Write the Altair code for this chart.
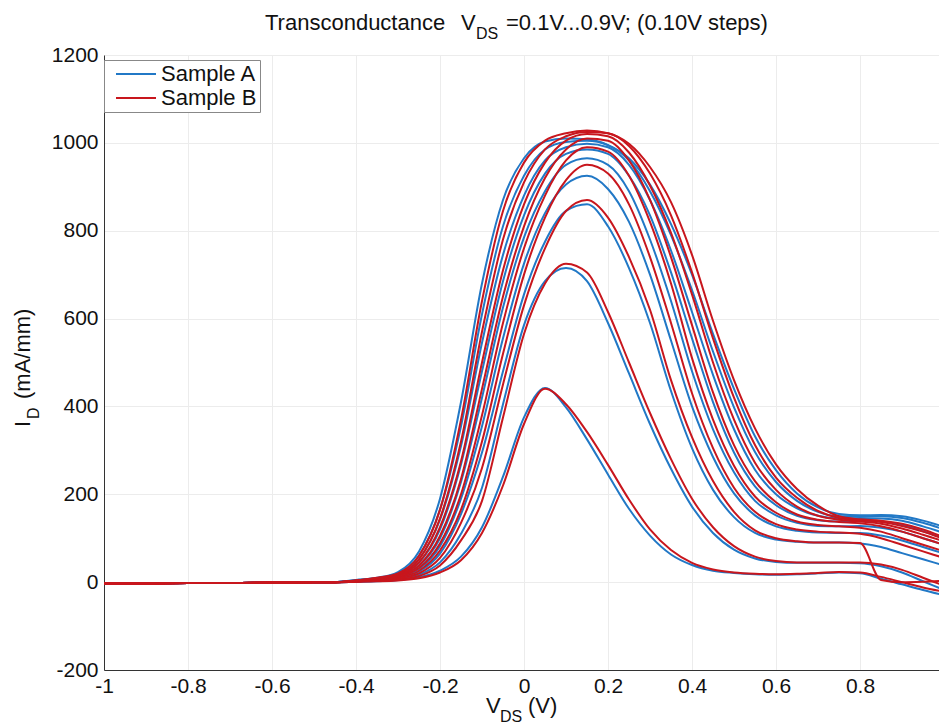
import altair as alt
import pandas as pd

# ---------------- data ----------------
SAMPLES = ["Sample A", "Sample B"]
VDS = ["0.1V", "0.2V", "0.3V", "0.4V", "0.5V", "0.6V", "0.7V", "0.8V", "0.9V"]

# off-state part, shared by all curves
X_OFF = [-1.0, -0.9, -0.8, -0.7, -0.6, -0.5, -0.45]
I_OFF = [-3, -3, -2, -2, -1, 0, 0]

# on-state grid
X_ON = [-0.4, -0.35, -0.3, -0.25, -0.2, -0.15, -0.1, -0.05, 0.0, 0.05, 0.1, 0.15,
        0.2, 0.25, 0.3, 0.35, 0.4, 0.45, 0.5, 0.55, 0.6, 0.65, 0.7, 0.75, 0.8,
        0.85, 0.9, 0.95, 1.0]

# Sample A (blue)
A1 = [1, 2, 5, 11, 26, 58, 125, 240, 375, 442, 398, 325, 245, 167, 106, 63, 39, 26, 21, 18, 17, 18, 20, 22, 20, 8, -5, -18, -30]
A2 = [1, 3, 7, 17, 45, 110, 215, 405, 585, 685, 715, 685, 590, 475, 360, 258, 172, 112, 74, 54, 46, 44, 44, 44, 43, 36, 22, 2, -18]
A3 = [2, 4, 9, 24, 65, 155, 295, 480, 655, 775, 845, 860, 810, 715, 590, 435, 305, 210, 148, 112, 97, 92, 90, 90, 88, 80, 66, 52, 38]
A4 = [2, 5, 11, 30, 82, 190, 355, 555, 725, 840, 905, 925, 895, 820, 700, 550, 400, 285, 202, 152, 127, 117, 113, 112, 112, 106, 95, 80, 65]
A5 = [3, 6, 13, 37, 100, 228, 420, 625, 785, 890, 950, 965, 950, 890, 780, 640, 480, 348, 250, 185, 152, 135, 128, 127, 128, 124, 115, 100, 85]
A6 = [3, 7, 15, 44, 120, 268, 480, 685, 835, 930, 975, 985, 975, 925, 835, 705, 555, 410, 295, 218, 175, 151, 141, 138, 140, 138, 130, 116, 100]
A7 = [4, 8, 17, 52, 142, 310, 545, 745, 880, 960, 990, 998, 990, 950, 870, 755, 615, 472, 348, 256, 200, 168, 151, 145, 146, 145, 140, 127, 112]
A8 = [4, 9, 20, 60, 165, 355, 610, 810, 925, 985, 1002, 1005, 995, 960, 890, 790, 665, 525, 398, 296, 228, 185, 160, 150, 150, 150, 146, 135, 120]
A9 = [5, 10, 23, 70, 190, 410, 680, 870, 965, 1003, 1010, 1008, 995, 965, 905, 815, 700, 565, 440, 332, 255, 202, 170, 155, 152, 153, 150, 140, 126]

# Sample B (red)
B1 = [1, 2, 4, 9, 22, 50, 112, 220, 360, 440, 405, 342, 267, 188, 120, 73, 44, 29, 22, 19, 18, 19, 21, 23, 22, 12, 0, -12, -22]
B2 = [1, 3, 6, 14, 38, 95, 185, 375, 565, 680, 725, 705, 615, 500, 385, 280, 190, 125, 82, 58, 48, 45, 45, 45, 45, 40, 28, 10, -8]
B3 = [2, 4, 8, 20, 55, 135, 260, 450, 630, 760, 845, 870, 830, 740, 620, 460, 330, 230, 160, 118, 100, 93, 90, 90, 89, 5, 0, 1, 3]
B4 = [2, 5, 10, 26, 72, 165, 320, 520, 700, 830, 915, 950, 930, 860, 740, 590, 430, 305, 215, 160, 132, 120, 115, 113, 110, 100, 85, 70, 55]
B5 = [2, 6, 12, 32, 88, 200, 380, 590, 760, 880, 960, 990, 980, 925, 820, 680, 510, 370, 265, 195, 158, 138, 130, 127, 124, 115, 100, 85, 70]
B6 = [3, 7, 14, 38, 105, 235, 440, 650, 810, 920, 985, 1010, 1005, 960, 870, 740, 585, 432, 312, 230, 182, 154, 142, 137, 134, 127, 115, 100, 85]
B7 = [3, 8, 16, 45, 125, 275, 500, 710, 860, 955, 1005, 1020, 1015, 978, 903, 795, 655, 500, 370, 272, 210, 172, 151, 142, 138, 133, 122, 108, 93]
B8 = [4, 9, 18, 52, 145, 320, 570, 780, 910, 985, 1015, 1025, 1022, 993, 930, 835, 705, 555, 420, 312, 238, 192, 162, 146, 141, 137, 128, 115, 98]
B9 = [4, 10, 20, 60, 165, 370, 640, 845, 955, 1005, 1022, 1028, 1022, 998, 945, 865, 745, 595, 460, 350, 268, 212, 174, 150, 143, 140, 133, 120, 102]

CURVES = {"Sample A": [A1, A2, A3, A4, A5, A6, A7, A8, A9],
          "Sample B": [B1, B2, B3, B4, B5, B6, B7, B8, B9]}

X_TICKS = [-1, -0.8, -0.6, -0.4, -0.2, 0, 0.2, 0.4, 0.6, 0.8, 1]
Y_TICKS = [-200, 0, 200, 400, 600, 800, 1000, 1200]

BLUE = "#2178c6"
RED = "#c8161d"

rows = []
for s in SAMPLES:
    for v, ys in zip(VDS, CURVES[s]):
        for x, y in zip(X_OFF + X_ON, I_OFF + ys):
            rows.append({"sample": s, "curve": s + " " + v, "x": x, "y": y})
df = pd.DataFrame(rows)

# ---------------- chart ----------------
LEFT, TOP = 104, 55
W, H = 835, 615
FONT = "Liberation Sans"

xscale = alt.Scale(domain=[-1, -1 + W / 420.0], nice=False, zero=False)
yscale = alt.Scale(domain=[-200, 1200], nice=False, zero=False)

xaxis = alt.Axis(values=X_TICKS, title="", ticks=False, grid=True,
                 gridColor="#ececec", domainColor="#333333", labelFont=FONT,
                 labelFontSize=21, labelColor="#111111", labelPadding=5,
                 labelFlush=False, labelOverlap=False,
                 labelExpr="'' + datum.value")
yaxis = alt.Axis(values=Y_TICKS, title="", ticks=False, grid=True,
                 gridColor="#ececec", domainColor="#333333", labelFont=FONT,
                 labelFontSize=21, labelColor="#111111", labelPadding=6,
                 labelFlush=False, labelOverlap=False,
                 labelExpr="'' + datum.value")

color = alt.Color("sample:N",
                  scale=alt.Scale(domain=SAMPLES, range=[BLUE, RED]),
                  legend=alt.Legend(title=None, orient="none", legendX=0, legendY=5,
                                    symbolType="stroke", symbolSize=1600,
                                    symbolStrokeWidth=2, symbolOffset=8,
                                    labelFont=FONT, labelFontSize=22,
                                    labelColor="#111111", labelOffset=4,
                                    clipHeight=22, padding=3, rowPadding=2,
                                    strokeColor="#888888", fillColor="white"))


def lines(sample):
    return alt.Chart(df[df["sample"] == sample]).mark_line(
        interpolate="monotone", strokeWidth=2, clip=True
    ).encode(
        x=alt.X("x:Q", scale=xscale, axis=xaxis),
        y=alt.Y("y:Q", scale=yscale, axis=yaxis),
        color=color,
        detail="curve:N",
    )


def txt(s, x, y, size=22, angle=0, baseline="alphabetic"):
    return alt.Chart(pd.DataFrame({"t": [s]})).mark_text(
        text=s, font=FONT, fontSize=size, color="#111111", align="left",
        baseline=baseline, angle=angle
    ).encode(x=alt.value(x - LEFT), y=alt.value(y - TOP))


texts = [
    # title
    txt("Transconductance", 265, 30),
    txt("V", 461, 30),
    txt("DS", 476, 39, size=16),
    txt("=0.1V...0.9V; (0.10V steps)", 506, 30),
    # x axis title
    txt("V", 486, 713),
    txt("DS", 500, 722, size=16),
    txt("(V)", 528, 713),
    # y axis title (rotated)
    txt("I", 30, 427, angle=270),
    txt("D", 39, 419, size=16, angle=270),
    txt("(mA/mm)", 30, 399, angle=270),
]

chart = alt.layer(lines("Sample A"), lines("Sample B"), *texts).properties(
    width=W, height=H,
    autosize=alt.AutoSizeParams(type="none"),
    padding={"left": LEFT, "top": TOP, "right": 0, "bottom": 725 - TOP - H},
).configure_view(stroke="transparent")

chart.save("out.html", embed_options={"renderer": "svg", "actions": False})
